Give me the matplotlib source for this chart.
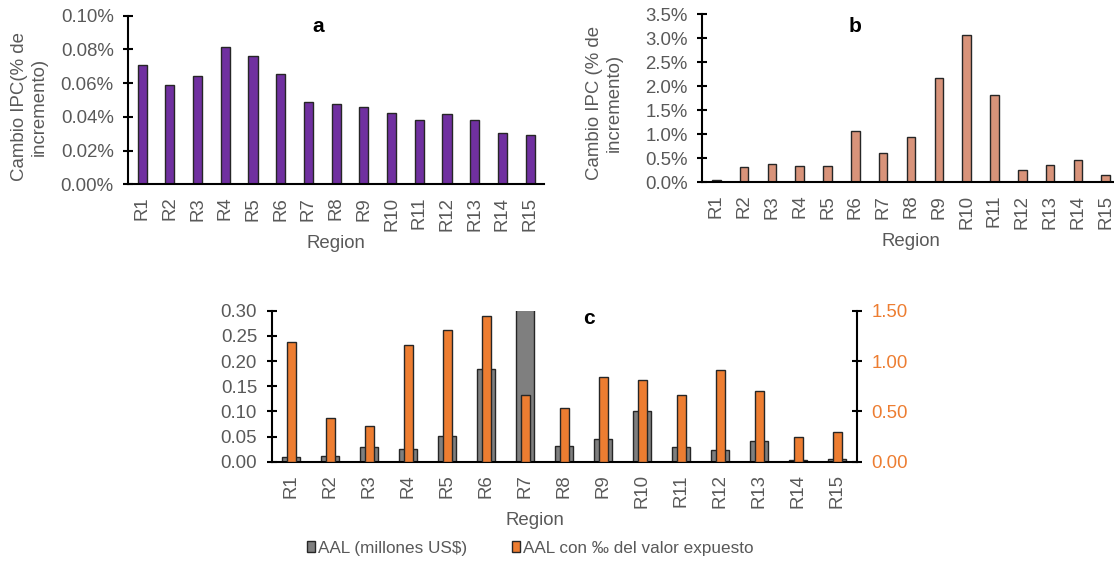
import matplotlib

matplotlib.use("Agg")
import matplotlib.pyplot as plt  # noqa: E402
from matplotlib.ticker import FuncFormatter  # noqa: E402

plt.rcParams["font.family"] = ["Liberation Sans", "DejaVu Sans"]

TXT = "#595959"
PURPLE = "#7030A0"
SALMON = "#D8937A"
ORANGE = "#ED7D31"
GREY = "#7F7F7F"
EDGE = "#262626"
FS = 13.4

regions = [f"R{i}" for i in range(1, 16)]

# panel a: change in CPI (%)
ipc_a = [0.0708, 0.0589, 0.0641, 0.0813, 0.0763, 0.0656, 0.0486, 0.0476,
         0.0457, 0.0425, 0.0384, 0.0415, 0.0382, 0.0305, 0.0295]
# panel b: change in CPI (%)
ipc_b = [0.04, 0.325, 0.375, 0.34, 0.34, 1.075, 0.61, 0.95,
         2.18, 3.06, 1.82, 0.25, 0.37, 0.47, 0.16]
# panel c: AAL (million US$) and AAL per mille of exposed value
aal_musd = [0.0099, 0.0119, 0.0285, 0.0245, 0.051, 0.1834, 0.36, 0.0311,
            0.0444, 0.1013, 0.029, 0.0225, 0.041, 0.0026, 0.0046]
aal_pm = [1.185, 0.43, 0.351, 1.159, 1.305, 1.447, 0.659, 0.533,
          0.838, 0.811, 0.662, 0.907, 0.702, 0.245, 0.291]

x = list(range(len(regions)))
W, H = 1114, 561


def box(l, t, r, b):
    return [l / W, 1 - b / H, (r - l) / W, (b - t) / H]


def style(ax):
    ax.spines["top"].set_visible(False)
    ax.spines["right"].set_visible(False)
    for s in ax.spines.values():
        s.set_color("black")
        s.set_linewidth(1.5)
    ax.tick_params(axis="y", direction="inout", length=7, width=1.5,
                   labelsize=FS, labelcolor=TXT, pad=7)
    ax.tick_params(axis="x", length=0, labelsize=FS, labelcolor=TXT, pad=9,
                   labelrotation=90)
    ax.set_xlim(-0.5, len(regions) - 0.5)
    ax.set_xticks(x)
    ax.set_xticklabels(regions)
    ax.set_xlabel("Region", fontsize=FS, color=TXT, labelpad=3)


def ylab(px, py, s):
    fig.text(px / W, 1 - py / H, s, rotation=90, ha="center", va="center",
             multialignment="center", fontsize=FS, color=TXT, linespacing=1.2)


def letter(px, py, s):
    fig.text(px / W, 1 - py / H, s, fontsize=15, fontweight="bold",
             ha="center", va="center")


fig = plt.figure(figsize=(W / 100, H / 100), dpi=100, facecolor="white")

# ---- a
axa = fig.add_axes(box(128.3, 15.7, 544, 184.3))
axa.bar(x, ipc_a, width=0.33, color=PURPLE, edgecolor=EDGE, linewidth=1)
style(axa)
axa.set_ylim(0, 0.1)
axa.set_yticks([0, 0.02, 0.04, 0.06, 0.08, 0.10])
axa.yaxis.set_major_formatter(FuncFormatter(lambda v, _: f"{v:.2f}%"))
ylab(29, 107, "Cambio IPC(% de\nincremento)")
letter(318, 27, "a")

# ---- b
axb = fig.add_axes(box(702.4, 14.3, 1119.6, 182.3))
axb.bar(x, ipc_b, width=0.31, color=SALMON, edgecolor=EDGE, linewidth=1)
style(axb)
axb.set_ylim(0, 3.5)
axb.set_yticks([0, 0.5, 1.0, 1.5, 2.0, 2.5, 3.0, 3.5])
axb.yaxis.set_major_formatter(FuncFormatter(lambda v, _: f"{v:.1f}%"))
ylab(604, 102.5, "Cambio IPC (% de\nincremento)")
letter(855, 27, "b")

# ---- c
axc = fig.add_axes(box(271.7, 310.7, 856.7, 461.7))
g = axc.bar(x, aal_musd, width=0.47, color=GREY, edgecolor=EDGE,
            linewidth=1, label="AAL (millones US$)")
style(axc)
axc.set_ylim(0, 0.30)
axc.set_yticks([0, 0.05, 0.10, 0.15, 0.20, 0.25, 0.30])
axc.yaxis.set_major_formatter(FuncFormatter(lambda v, _: f"{v:.2f}"))
axc.xaxis.label.set_position((0.45, 0))

axr = axc.twinx()
o = axr.bar(x, aal_pm, width=0.23, color=ORANGE, edgecolor=EDGE,
            linewidth=1, label="AAL con ‰ del valor expuesto")
axr.set_ylim(0, 1.5)
axr.set_yticks([0, 0.5, 1.0, 1.5])
axr.yaxis.set_major_formatter(FuncFormatter(lambda v, _: f"{v:.2f}"))
for s in ["top", "left", "bottom"]:
    axr.spines[s].set_visible(False)
axr.spines["right"].set_color("black")
axr.spines["right"].set_linewidth(1.5)
axr.tick_params(axis="y", direction="inout", length=7, width=1.5,
                labelsize=FS, labelcolor=ORANGE, pad=7)
letter(589, 319, "c")

fig.legend([g, o], [g.get_label(), o.get_label()], loc="center",
           bbox_to_anchor=(530 / W, 1 - 548 / H), ncol=2, frameon=False,
           fontsize=12.3, labelcolor=TXT, handlelength=0.5, handleheight=0.55,
           handletextpad=0.15, columnspacing=2.6, borderpad=0)

fig.savefig("out.png", dpi=100, facecolor="white")
